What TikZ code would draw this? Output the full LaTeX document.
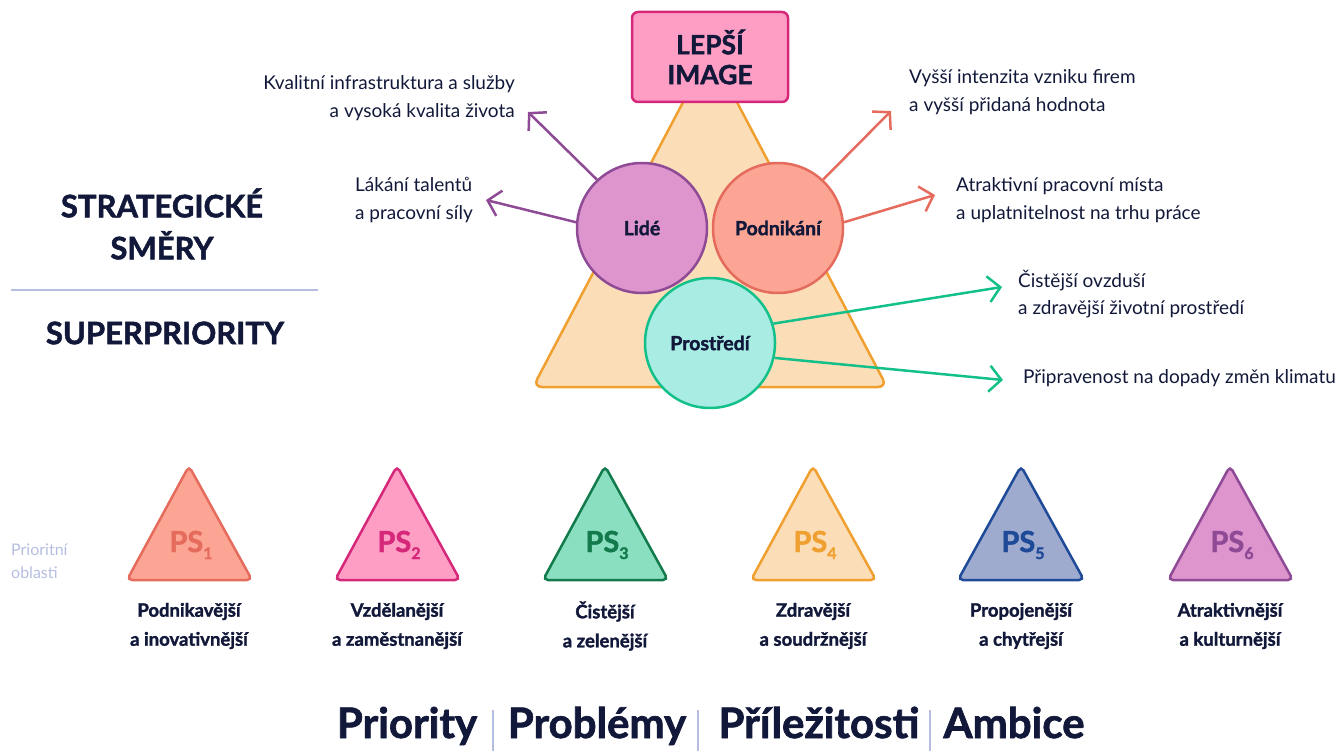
\documentclass[tikz,border=0pt]{standalone}
\usepackage{fontspec}
\setmainfont{Lato}[BoldFeatures={FakeBold=1.6}]
\usetikzlibrary{arrows.meta,positioning}
\definecolor{navy}{HTML}{111839}
\definecolor{lav}{HTML}{B5BEE0}
\definecolor{orangeF}{HTML}{FBDDB8}
\definecolor{orangeD}{HTML}{F0A030}
\definecolor{pinkF}{HTML}{FF9EC4}
\definecolor{pinkD}{HTML}{D6287A}
\definecolor{lilaF}{HTML}{DE95CE}
\definecolor{lilaD}{HTML}{8E4A95}
\definecolor{salmF}{HTML}{FCA595}
\definecolor{salmD}{HTML}{E56B5D}
\definecolor{mintF}{HTML}{A8ECE4}
\definecolor{mintD}{HTML}{14C08A}
\definecolor{greenF}{HTML}{8ADFC0}
\definecolor{greenD}{HTML}{137A4C}
\definecolor{blueF}{HTML}{9FAACF}
\definecolor{blueD}{HTML}{1E4A98}
\newcommand{\psnum}[1]{\raisebox{-7pt}{\fontsize{16}{16}\selectfont #1}}

\begin{document}
\begin{tikzpicture}[x=1pt,y=-1pt,
	note/.style={font=\fontsize{19}{27.5}\selectfont, text=navy, inner sep=0pt},
	circ/.style={circle, minimum size=130pt, line width=2.5pt, inner sep=0pt,
		font=\bfseries\fontsize{19.5}{20}\selectfont, text=navy},
	arr/.style={line width=2.5pt, -{Straight Barb[length=12pt,width=26pt]}},
	head/.style={font=\bfseries\fontsize{31}{42}\selectfont, text=navy, align=center},
	pstri/.style={line width=2.5pt, rounded corners=5pt},
	pslab/.style={font=\bfseries\fontsize{29}{30}\selectfont, anchor=base, inner sep=0pt},
	pscap/.style={font=\bfseries\fontsize{18.5}{29}\selectfont, text=navy, align=center},
	big/.style={font=\bfseries\fontsize{42}{44}\selectfont, text=navy, inner sep=0pt, anchor=base},
	sep/.style={lav, line width=1.5pt}]
		\useasboundingbox (0,0) rectangle (1337,751);
		
		% left headings
		\node [head] (smery) at (162,224) {STRATEGICKÉ\\SMĚRY};
		\draw [sep] (11,290) -- (318,290);
		\node [head] (superp) at (165,333) {SUPERPRIORITY};
		
		% big triangle, box and circles
		\draw [fill=orangeF, draw=orangeD, line width=2.5pt, rounded corners=9pt]
		(710,387) -- (887,387) -- (710,51) -- (533,387) -- cycle;
		\node [draw=pinkD, fill=pinkF, line width=2.5pt, rounded corners=6pt,
		minimum width=156pt, minimum height=90pt, align=center, text=navy,
		font=\bfseries\fontsize{26.5}{30}\selectfont] (image) at (710,57) {LEPŠÍ\\IMAGE};
		\node [circ, draw=lilaD, fill=lilaF] (lide) at (642,228) {Lidé};
		\node [circ, draw=salmD, fill=salmF] (podnikani) at (778,228) {Podnikání};
		\node [circ, draw=mintD, fill=mintF] (prostredi) at (710,343) {Prostředí};
		
		% goals
		\node [note, anchor=east, align=right] (kvalitaT) at (515,98)
		{Kvalitní infrastruktura a služby\\a vysoká kvalita života};
		\node [note, anchor=west, align=left] (talentT) at (355,200)
		{Lákání talentů\\a pracovní síly};
		\node [note, anchor=west, align=left] (firmyT) at (909,92)
		{Vyšší intenzita vzniku firem\\a vyšší přidaná hodnota};
		\node [note, anchor=west, align=left] (mistaT) at (956,200)
		{Atraktivní pracovní místa\\a uplatnitelnost na trhu práce};
		\node [note, anchor=west, align=left] (ovzdusiT) at (1018,294)
		{Čistější ovzduší\\a zdravější životní prostředí};
		\node [note, anchor=west] (klimaT) at (1023,378)
		{Připravenost na dopady změn klimatu};
		
		\coordinate (kvalita) at (528,112);
		\coordinate (talent) at (486,200);
		\coordinate (firmy) at (891,111);
		\coordinate (mista) at (935,195);
		\coordinate (ovzdusi) at (1002,287);
		\coordinate (klima) at (1003,380);
		
		\draw [arr, lilaD] (lide.133) -- (kvalita);
		\draw [arr, lilaD] (lide.175) -- (talent);
		\draw [arr, salmD] (podnikani.47) -- (firmy);
		\draw [arr, salmD] (podnikani.5) -- (mista);
		\draw [arr, mintD] (prostredi.17) -- (ovzdusi);
		\draw [arr, mintD] (prostredi.-13) -- (klima);
		
		% priority areas
		\node [anchor=west, align=left, text=lav, inner sep=0pt,
		font=\fontsize{16}{23}\selectfont] (oblasti) at (11,561) {Prioritní\\oblasti};
		
		\draw [pstri, fill=salmF, draw=salmD] (189,580) -- (252,580) -- (189,466) -- (127,580) -- cycle;
		\node [pslab, text=salmD] (ps1) at (191,552) {PS\psnum{1}};
		\node [pscap] (cap1) at (189,626) {Podnikavější\\a inovativnější};
		
		\draw [pstri, fill=pinkF, draw=pinkD] (397,580) -- (460,580) -- (397,466) -- (335,580) -- cycle;
		\node [pslab, text=pinkD] (ps2) at (399,552) {PS\psnum{2}};
		\node [pscap] (cap2) at (397,626) {Vzdělanější\\a zaměstnanější};
		
		\draw [pstri, fill=greenF, draw=greenD] (605,580) -- (668,580) -- (605,466) -- (543,580) -- cycle;
		\node [pslab, text=greenD] (ps3) at (607,552) {PS\psnum{3}};
		\node [pscap] (cap3) at (605,626) {Čistější\\a zelenější};
		
		\draw [pstri, fill=orangeF, draw=orangeD] (813,580) -- (876,580) -- (813,466) -- (751,580) -- cycle;
		\node [pslab, text=orangeD] (ps4) at (815,552) {PS\psnum{4}};
		\node [pscap] (cap4) at (813,626) {Zdravější\\a soudržnější};
		
		\draw [pstri, fill=blueF, draw=blueD] (1021,580) -- (1084,580) -- (1021,466) -- (958,580) -- cycle;
		\node [pslab, text=blueD] (ps5) at (1023,552) {PS\psnum{5}};
		\node [pscap] (cap5) at (1021,626) {Propojenější\\a chytřejší};
		
		\draw [pstri, fill=lilaF, draw=lilaD] (1230,580) -- (1293,580) -- (1230,466) -- (1168,580) -- cycle;
		\node [pslab, text=lilaD] (ps6) at (1232,552) {PS\psnum{6}};
		\node [pscap] (cap6) at (1230,626) {Atraktivnější\\a kulturnější};
		
		% bottom line
		\node [big] (prio) at (407,738) {Priority};
		\node [big] (probl) at (597,738) {Problémy};
		\node [big] (prilez) at (819,738) {Příležitosti};
		\node [big] (ambice) at (1014,738) {Ambice};
		\draw [sep] (493,710) -- (493,751);
		\draw [sep] (698,710) -- (698,751);
		\draw [sep] (930,710) -- (930,751);
	\end{tikzpicture}
\end{document}
